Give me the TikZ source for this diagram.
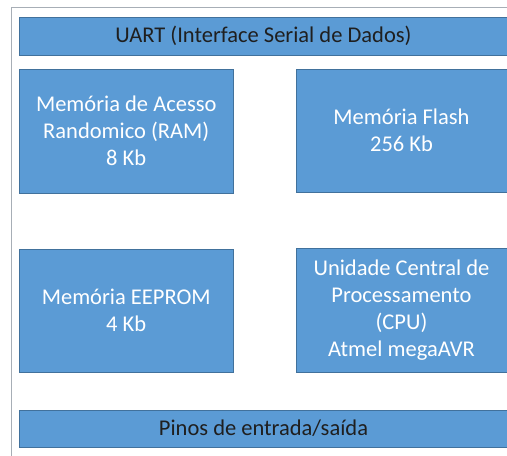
\documentclass[tikz,border=0pt]{standalone}
\usepackage{fontspec}
\setmainfont{Carlito}
\definecolor{boxfill}{HTML}{5B9BD5}
\definecolor{boxline}{HTML}{41719C}
\definecolor{framegray}{HTML}{A7AEB6}
\begin{document}
\begin{tikzpicture}[x=1pt,y=-1pt,
  block/.style={draw=boxline,line width=0.8pt,fill=boxfill,inner sep=0pt,
    text=white,align=center,font=\fontsize{22.5}{27}\selectfont},
  bar/.style={block,text=black!88}]
\useasboundingbox (0,0) rectangle (507,456);
% outer frame
\draw[framegray,line width=1pt] (11,456) -- (11,7.5) -- (507,7.5);
% blocks
\node[bar,minimum width=488,minimum height=38] (uart) at (263.5,36)
  {UART (Interface Serial de Dados)};
\node[block,minimum width=213.5,minimum height=124] (ram) at (126.25,131)
  {Memória de Acesso\\Randomico (RAM)\\8 Kb};
\node[block,minimum width=211,minimum height=123] (flash) at (401.5,130.5)
  {Memória Flash\\256 Kb};
\node[block,minimum width=213.5,minimum height=123] (eeprom) at (126.25,310.5)
  {Memória EEPROM\\4 Kb};
\node[block,minimum width=211,minimum height=124] (cpu) at (401.5,310)
  {Unidade Central de\\Processamento\\(CPU)\\Atmel megaAVR};
\node[bar,minimum width=488,minimum height=37] (pinos) at (263.5,428.5)
  {Pinos de entrada/saída};
\end{tikzpicture}
\end{document}
